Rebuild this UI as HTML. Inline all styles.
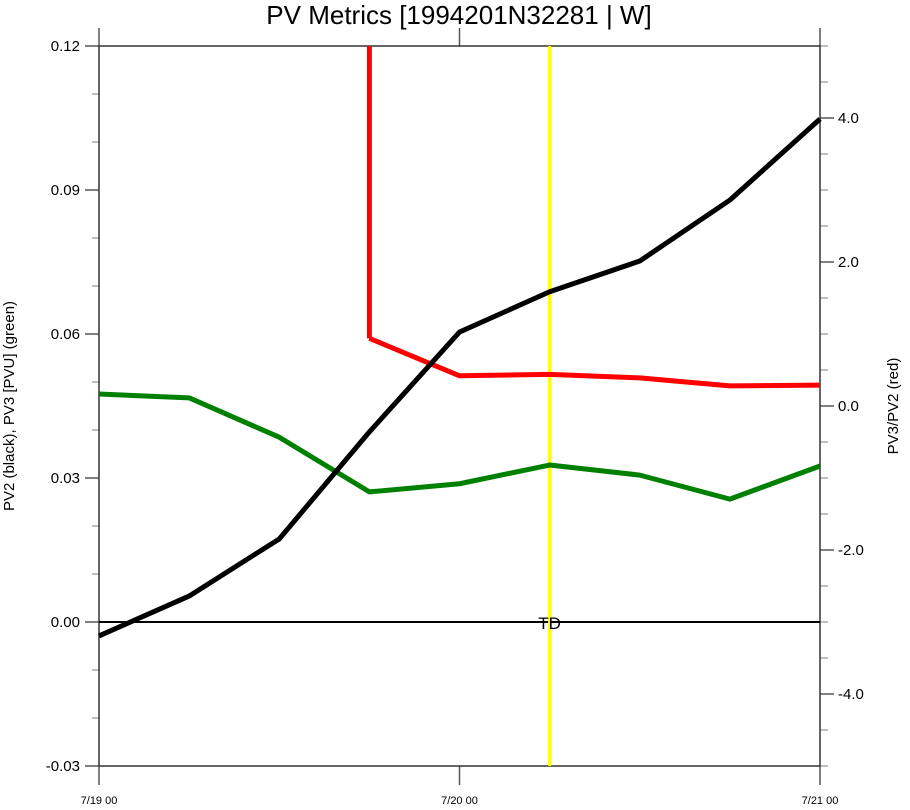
<!DOCTYPE html>
<html><head><meta charset="utf-8"><style>
body{margin:0;background:#fff;}
svg text{font-family:"Liberation Sans",sans-serif;}
</style></head><body>
<svg id="chart" width="910" height="805" xmlns="http://www.w3.org/2000/svg">
<text x="459" y="24" font-size="26" text-anchor="middle">PV Metrics [1994201N32281 | W]</text>
<g id="axes"></g>
<g id="series"></g>
<text transform="translate(14,406) rotate(-90)" font-size="15" text-anchor="middle">PV2 (black), PV3 [PVU] (green)</text>
<text transform="translate(898,406) rotate(-90)" font-size="15" text-anchor="middle">PV3/PV2 (red)</text>
</svg>
<script>
const xLabels=["7/19 00","7/20 00","7/21 00"];
const leftTicks=[-0.03,0,0.03,0.06,0.09,0.12];
const leftTickLabels=["-0.03","0.00","0.03","0.06","0.09","0.12"];
const rightTicks=[-4,-2,0,2,4];
const rightTickLabels=["-4.0","-2.0","0.0","2.0","4.0"];
const pv2=[-0.0029,0.0054,0.0173,0.0396,0.0604,0.0688,0.0752,0.0879,0.1048];
const pv3=[0.0475,0.0467,0.0385,0.0271,0.0288,0.0327,0.0306,0.0256,0.0325];
const ratio=[null,null,null,0.94,0.42,0.44,0.39,0.28,0.29];
const ratioOffscale=[null,null,null,99,null,null,null,null,null];
const tdIndex=5;

const X0=99,X1=820,Y0=46,Y1=766;
const xs=i=>X0+(X1-X0)*i/8;
const yl=v=>Y1-(v+0.03)/0.15*(Y1-Y0);
const yr=v=>Y1-(Math.max(-5,Math.min(5,v))+5)/10*(Y1-Y0);
const NS="http://www.w3.org/2000/svg";
const axes=document.getElementById('axes'),ser=document.getElementById('series');
function mk(p,t,a){const e=document.createElementNS(NS,t);for(const k in a)e.setAttribute(k,a[k]);p.appendChild(e);return e;}

// ticks left
for(let v=-0.03;v<=0.1201;v+=0.01){
  const y=yl(v),maj=Math.abs(Math.round(v*100)%3)===0;
  const t=mk(axes,'line',{x1:maj?85:92,x2:X0,y1:y,y2:y,stroke:maj?'#555':'#aaa','stroke-width':1.5});
  
  
}
leftTicks.forEach((v,i)=>{
  const t=mk(axes,'text',{x:80,y:yl(v)+5,'font-size':15,'text-anchor':'end'});
  
  
  t.textContent=leftTickLabels[i];
});
// ticks right
for(let v=-5;v<=5.001;v+=0.5){
  const y=yr(v),maj=Math.abs(Math.round(v*2))%4===0;
  const t=mk(axes,'line',{x1:X1,x2:maj?834:828,y1:y,y2:y,stroke:maj?'#555':'#aaa','stroke-width':1.5});
  
  
}
rightTicks.forEach((v,i)=>{
  const t=mk(axes,'text',{x:838,y:yr(v)+5,'font-size':15});
  
  
  t.textContent=rightTickLabels[i];
});
// x ticks
xLabels.forEach((l,i)=>{
  const x=xs(i*4);
  const a=mk(axes,'line',{x1:x,x2:x,y1:Y1,y2:785,stroke:'#555','stroke-width':1.5});
  
  
  const b=mk(axes,'line',{x1:x,x2:x,y1:Y0,y2:28,stroke:'#555','stroke-width':1.5});
  
  
  const t=mk(axes,'text',{x:x,y:804,'font-size':11,'text-anchor':'middle'});
  
  
  t.textContent=l;
});
const frame=mk(axes,'rect',{x:X0,y:Y0,width:X1-X0,height:Y1-Y0,fill:'none',stroke:'#333','stroke-width':1.5});


const zl=mk(axes,'line',{x1:X0,x2:X1,y1:yl(0),y2:yl(0),stroke:'#000','stroke-width':2});


// TD marker
const tdx=xs(tdIndex);
const td=mk(ser,'line',{x1:tdx,x2:tdx,y1:Y0,y2:Y1,stroke:'#ffff00','stroke-width':3});


const tdt=mk(ser,'text',{x:tdx,y:yl(0)+7,'font-size':17,'text-anchor':'middle'});


tdt.textContent='TD';

function line(vals,yf,color,name){
  let d='';vals.forEach((v,i)=>{if(v==null)return;d+=(d?'L':'M')+xs(i)+','+yf(v);});
  const p=mk(ser,'path',{d:d,fill:'none',stroke:color,'stroke-width':5,'stroke-linejoin':'round'});
  
  
}
// red offscale segment
ratioOffscale.forEach((v,i)=>{
  if(v==null||ratio[i]==null)return;
  const s=mk(ser,'line',{x1:xs(i),x2:xs(i),y1:yr(v),y2:yr(ratio[i]),stroke:'#ff0000','stroke-width':5});
  
  
});
line(ratio,yr,'#ff0000','pv3-pv2-ratio-line');
line(pv3,yl,'#008000','pv3-line');
line(pv2,yl,'#000000','pv2-line');
</script>
</body></html>
